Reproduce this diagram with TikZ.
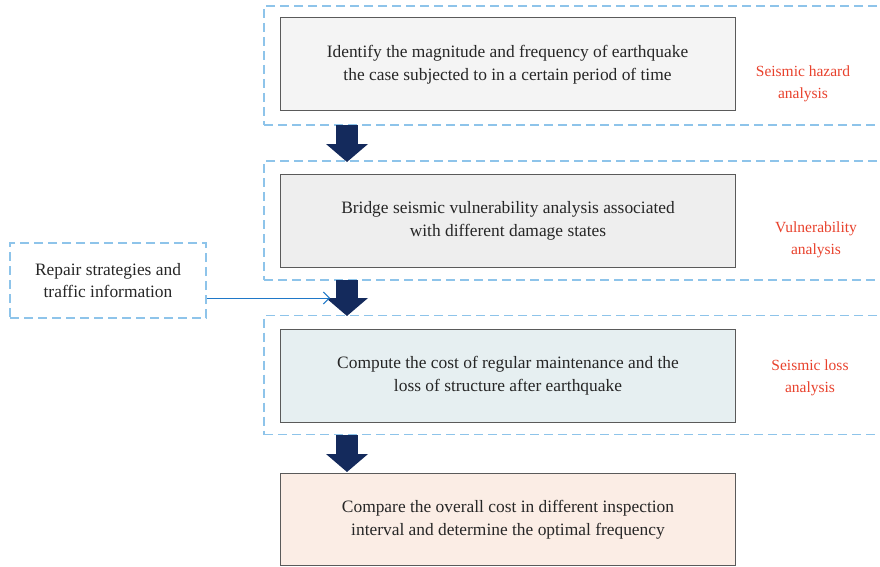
\documentclass[tikz,border=0pt]{standalone}
\usepackage{fontspec}
\setmainfont{Liberation Serif}
\usetikzlibrary{arrows.meta}
\definecolor{framecol}{HTML}{8EC4EA}
\definecolor{boxline}{HTML}{5A5A5A}
\definecolor{fillA}{HTML}{F4F4F4}
\definecolor{fillB}{HTML}{EEEEEE}
\definecolor{fillC}{HTML}{E6EFF1}
\definecolor{fillD}{HTML}{FBEDE5}
\definecolor{labelred}{HTML}{E8412C}
\definecolor{navy}{HTML}{142A5C}
\definecolor{linkblue}{HTML}{1F78C8}
\begin{document}
\begin{tikzpicture}[x=1pt,y=-1pt,
  stage/.style={draw=framecol, dash pattern=on 9pt off 5pt, line width=1.2pt,
    minimum width=660pt, minimum height=119pt, inner sep=0pt},
  stepbox/.style={draw=boxline, line width=1pt, minimum width=455pt, minimum height=93pt,
    align=center, font=\fontsize{17.4}{22.5}\selectfont, text=black!85, inner sep=0pt},
  phase/.style={align=center, text=labelred, font=\fontsize{15.5}{21.5}\selectfont},
  flow/.style={navy, line width=22pt, -{Triangle[length=18pt,width=41pt]}}]
\useasboundingbox (0,0) rectangle (880,567);

% dashed stage frames (run past the right edge)
\node[stage] (f1) at (594,65.5) {};
\node[stage] (f2) at (594,220.5) {};
\node[stage] (f3) at (594,375) {};

% process boxes
\node[stepbox, fill=fillA] (b1) at (507.5,64.5)
  {Identify the magnitude and frequency of earthquake\\the case subjected to in a certain period of time};
\node[stepbox, fill=fillB] (b2) at (508,221)
  {Bridge seismic vulnerability analysis associated\\with different damage states};
\node[stepbox, fill=fillC] (b3) at (508,375.5)
  {Compute the cost of regular maintenance and the\\loss of structure after earthquake};
\node[stepbox, fill=fillD, minimum height=92pt] (b4) at (508,519.5)
  {Compare the overall cost in different inspection\\interval and determine the optimal frequency};

% phase labels
\node[phase] (l1) at (803,84) {Seismic hazard\\analysis};
\node[phase] (l2) at (816,240) {Vulnerability\\analysis};
\node[phase] (l3) at (810,378) {Seismic loss\\analysis};

% side input
\node[draw=framecol, dash pattern=on 9pt off 5pt, line width=1.2pt,
  minimum width=196pt, minimum height=75pt, align=center,
  font=\fontsize{17.4}{21.5}\selectfont, text=black!85] (side) at (108,280.5)
  {Repair strategies and\\traffic information};

% block arrows between stages
\coordinate (a1s) at (347,125);
\coordinate (a1e) at (347,162);
\coordinate (a2s) at (347,280);
\coordinate (a2e) at (347,316);
\coordinate (a3s) at (347,435);
\coordinate (a3e) at (347,472);
\draw[flow] (a1s) -- (a1e);
\draw[flow] (a2s) -- (a2e);
\draw[flow] (a3s) -- (a3e);

% thin input arrow
\coordinate (inS) at ([yshift=-17.5pt]side.east);
\coordinate (inE) at (330,298);
\draw[linkblue, line width=1pt, -{Straight Barb[length=6pt,width=12pt]}] (inS) -- (inE);
\end{tikzpicture}
\end{document}
